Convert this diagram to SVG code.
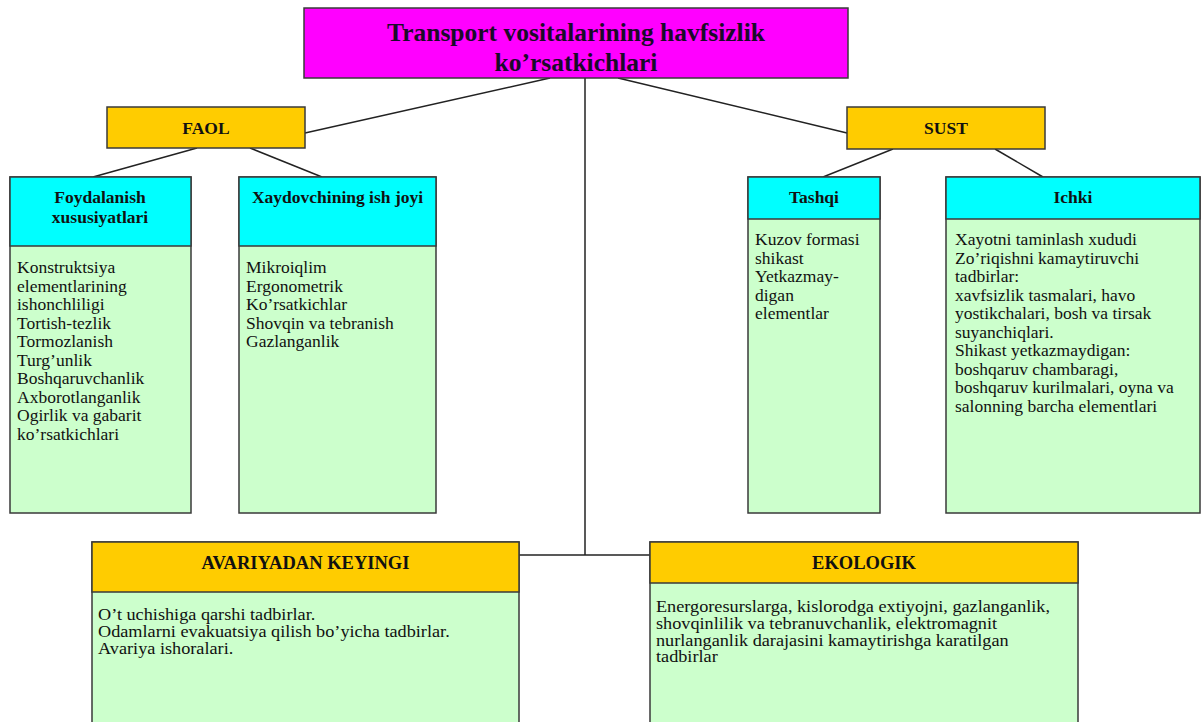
<svg xmlns="http://www.w3.org/2000/svg" width="1202" height="722" viewBox="0 0 1202 722">
<style>
.box{stroke:#3a3a3a;stroke-width:1.5}
.mag{fill:#FF00FF}
.org{fill:#FFCC00}
.cyn{fill:#00FFFF}
.grn{fill:#CCFFCC}
.t{font-family:"Liberation Serif","Times New Roman",serif;fill:#111}
.ttl{font-size:25.5px;font-weight:bold;text-anchor:middle;fill:#1a0a2a}
.hd{font-size:17.5px;font-weight:bold;text-anchor:middle}
.hd2{font-size:18.5px;font-weight:bold;text-anchor:middle}
.bd{font-size:17.5px}
.bd2{font-size:16px}
.con{stroke:#222;stroke-width:1.5;fill:none}
</style>
<rect width="1202" height="722" fill="#fff"/>
<g id="connectors">
<line class="con" x1="550" y1="78" x2="305" y2="133"/>
<line class="con" x1="585" y1="78" x2="585" y2="555"/>
<line class="con" x1="618" y1="78" x2="847" y2="133"/>
<line class="con" x1="519" y1="555" x2="651" y2="555"/>
<line class="con" x1="197" y1="148" x2="93" y2="177"/>
<line class="con" x1="250" y1="148" x2="322" y2="177"/>
<line class="con" x1="893" y1="149" x2="823" y2="177"/>
<line class="con" x1="995" y1="149" x2="1043" y2="177"/>
</g>
<g id="title">
<rect class="box mag" x="304" y="8" width="544" height="70"/>
<text class="t ttl" x="576" y="41">Transport vositalarining havfsizlik</text>
<text class="t ttl" x="576" y="71">ko’rsatkichlari</text>
</g>
<g id="faol">
<rect class="box org" x="107" y="107" width="198" height="41"/>
<text class="t hd" x="206" y="134">FAOL</text>
</g>
<g id="sust">
<rect class="box org" x="847" y="107" width="198" height="42"/>
<text class="t hd" x="946" y="134">SUST</text>
</g>
<g id="foydalanish">
<rect class="box grn" x="10" y="177" width="181" height="336"/>
<rect class="box cyn" x="10" y="177" width="181" height="69"/>
<text class="t hd" x="100" y="203">Foydalanish</text>
<text class="t hd" x="100" y="223">xususiyatlari</text>
<text class="t bd" x="17" y="273">
<tspan x="17">Konstruktsiya</tspan>
<tspan x="17" dy="18.5">elementlarining</tspan>
<tspan x="17" dy="18.5">ishonchliligi</tspan>
<tspan x="17" dy="18.5">Tortish-tezlik</tspan>
<tspan x="17" dy="18.5">Tormozlanish</tspan>
<tspan x="17" dy="18.5">Turg’unlik</tspan>
<tspan x="17" dy="18.5">Boshqaruvchanlik</tspan>
<tspan x="17" dy="18.5">Axborotlanganlik</tspan>
<tspan x="17" dy="18.5">Ogirlik va gabarit</tspan>
<tspan x="17" dy="18.5">ko’rsatkichlari</tspan>
</text>
</g>
<g id="xaydovchi">
<rect class="box grn" x="239" y="177" width="197" height="336"/>
<rect class="box cyn" x="239" y="177" width="197" height="69"/>
<text class="t hd" x="337.5" y="203">Xaydovchining ish joyi</text>
<text class="t bd" x="246" y="273">
<tspan x="246">Mikroiqlim</tspan>
<tspan x="246" dy="18.5">Ergonometrik</tspan>
<tspan x="246" dy="18.5">Ko’rsatkichlar</tspan>
<tspan x="246" dy="18.5">Shovqin va tebranish</tspan>
<tspan x="246" dy="18.5">Gazlanganlik</tspan>
</text>
</g>
<g id="tashqi">
<rect class="box grn" x="748" y="177" width="132" height="336"/>
<rect class="box cyn" x="748" y="177" width="132" height="42"/>
<text class="t hd" x="814" y="203">Tashqi</text>
<text class="t bd" x="755" y="245">
<tspan x="755">Kuzov formasi</tspan>
<tspan x="755" dy="18.5">shikast</tspan>
<tspan x="755" dy="18.5">Yetkazmay-</tspan>
<tspan x="755" dy="18.5">digan</tspan>
<tspan x="755" dy="18.5">elementlar</tspan>
</text>
</g>
<g id="ichki">
<rect class="box grn" x="946" y="177" width="254" height="336"/>
<rect class="box cyn" x="946" y="177" width="254" height="42"/>
<text class="t hd" x="1073" y="203">Ichki</text>
<text class="t bd" x="955" y="245">
<tspan x="955">Xayotni taminlash xududi</tspan>
<tspan x="955" dy="18.5">Zo’riqishni kamaytiruvchi</tspan>
<tspan x="955" dy="18.5">tadbirlar:</tspan>
<tspan x="955" dy="18.5">xavfsizlik tasmalari, havo</tspan>
<tspan x="955" dy="18.5">yostikchalari, bosh va tirsak</tspan>
<tspan x="955" dy="18.5">suyanchiqlari.</tspan>
<tspan x="955" dy="18.5">Shikast yetkazmaydigan:</tspan>
<tspan x="955" dy="18.5">boshqaruv chambaragi,</tspan>
<tspan x="955" dy="18.5">boshqaruv kurilmalari, oyna va</tspan>
<tspan x="955" dy="18.5">salonning barcha elementlari</tspan>
</text>
</g>
<g id="avariyadan">
<rect class="box grn" x="92" y="542" width="427" height="190"/>
<rect class="box org" x="92" y="542" width="427" height="50"/>
<text class="t hd2" x="305.5" y="569">AVARIYADAN KEYINGI</text>
<text class="t bd2" x="98" y="620" transform="matrix(1.14 0 0 1 -13.72 0)">
<tspan x="98">O’t uchishiga qarshi tadbirlar.</tspan>
<tspan x="98" dy="17">Odamlarni evakuatsiya qilish bo’yicha tadbirlar.</tspan>
<tspan x="98" dy="17">Avariya ishoralari.</tspan>
</text>
</g>
<g id="ekologik">
<rect class="box grn" x="650" y="542" width="428" height="190"/>
<rect class="box org" x="650" y="542" width="428" height="41"/>
<text class="t hd2" x="864" y="569">EKOLOGIK</text>
<text class="t bd2" x="656" y="612" transform="matrix(1.14 0 0 1 -91.84 0)">
<tspan x="656">Energoresurslarga, kislorodga extiyojni, gazlanganlik,</tspan>
<tspan x="656" dy="16.8">shovqinlilik va tebranuvchanlik, elektromagnit</tspan>
<tspan x="656" dy="16.8">nurlanganlik darajasini kamaytirishga karatilgan</tspan>
<tspan x="656" dy="16.8">tadbirlar</tspan>
</text>
</g>
</svg>
